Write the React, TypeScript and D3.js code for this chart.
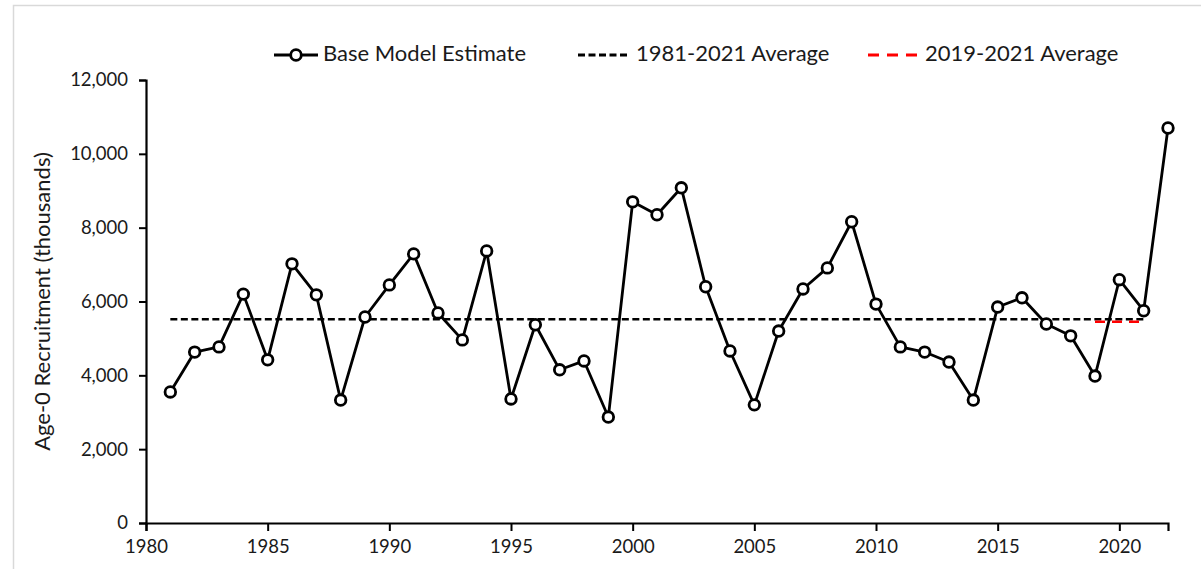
import { useEffect, useRef } from 'react';
import * as d3 from 'd3';

const years = [
  1981, 1982, 1983, 1984, 1985, 1986, 1987, 1988, 1989, 1990,
  1991, 1992, 1993, 1994, 1995, 1996, 1997, 1998, 1999, 2000,
  2001, 2002, 2003, 2004, 2005, 2006, 2007, 2008, 2009, 2010,
  2011, 2012, 2013, 2014, 2015, 2016, 2017, 2018, 2019, 2020,
  2021, 2022,
];
const recruitment = [
  3550, 4630, 4770, 6200, 4420, 7020, 6180, 3330, 5580, 6450,
  7290, 5690, 4960, 7370, 3360, 5370, 4150, 4390, 2870, 8700,
  8350, 9080, 6400, 4660, 3200, 5200, 6340, 6910, 8160, 5930,
  4770, 4630, 4360, 3330, 5850, 6100, 5390, 5070, 3980, 6590,
  5750, 10700,
];
// averages
const longAvgYears = [1981, 2021];
const longAvgValue = 5520;
const recentAvgYears = [2019, 2021];
const recentAvgValue = 5450;

const yTicks = [0, 2000, 4000, 6000, 8000, 10000, 12000];
const xTicks = [1980, 1985, 1990, 1995, 2000, 2005, 2010, 2015, 2020];
const legendLabels = ['Base Model Estimate', '1981-2021 Average', '2019-2021 Average'];

interface Point {
  year: number;
  value: number;
}

const App = () => {
  const chartRef = useRef(null);

  useEffect(() => {
    document.body.style.margin = '0';
    d3.select(chartRef.current).selectAll('svg').remove();

    const width = 1201;
    const height = 569;
    const margin = { top: 80, right: 33, bottom: 46, left: 146 };
    const font = 'Lato, "Open Sans", sans-serif';
    const textColor = '#1a1a1a';

    const data: Point[] = years.map((y, i) => ({ year: y, value: recruitment[i] }));

    const svg = d3.select(chartRef.current)
      .append('svg')
      .attr('width', width)
      .attr('height', height)
      .style('display', 'block')
      .style('background', '#fff');

    // outer chart border
    svg.append('rect')
      .attr('x', 13.5)
      .attr('y', 5.5)
      .attr('width', width + 10)
      .attr('height', height + 10)
      .attr('fill', 'none')
      .attr('stroke', '#d9d9d9')
      .attr('stroke-width', 1.5);

    const x = d3.scaleLinear()
      .domain([1980, 2022])
      .range([margin.left, width - margin.right]);

    const y = d3.scaleLinear()
      .domain([0, 12000])
      .range([height - margin.bottom, margin.top]);

    const g = svg.append('g');

    // x axis: minor ticks every year, labels every 5
    const xAxis = g.append('g')
      .attr('transform', `translate(0,${y(0)})`);
    xAxis.call(d3.axisBottom(x).tickValues(d3.range(1980, 2023)).tickSize(5).tickFormat(() => ''));
    xAxis.call(d3.axisBottom(x).tickValues(xTicks).tickSize(8).tickFormat(d3.format('d')));
    xAxis.selectAll('path').attr('stroke', '#000').attr('stroke-width', 2.2);
    xAxis.selectAll('line').attr('stroke', '#000').attr('stroke-width', 2);
    xAxis.selectAll('text')
      .attr('font-family', font)
      .attr('font-size', 18.5)
      .attr('fill', textColor)
      .attr('dy', '0.71em')
      .attr('y', 17);

    // y axis: minor ticks every 400
    const yAxis = g.append('g')
      .attr('transform', `translate(${x(1980)},0)`);
    yAxis.call(d3.axisLeft(y).tickValues(d3.range(0, 12001, 400)).tickSize(5).tickFormat(() => ''));
    yAxis.call(d3.axisLeft(y).tickValues(yTicks).tickSize(7).tickFormat(d3.format(',')));
    yAxis.selectAll('path').attr('stroke', '#000').attr('stroke-width', 2.2);
    yAxis.selectAll('line').attr('stroke', '#000').attr('stroke-width', 2);
    yAxis.selectAll('text')
      .attr('font-family', font)
      .attr('font-size', 18.5)
      .attr('fill', textColor)
      .attr('x', -18);

    g.append('text')
      .attr('transform', `translate(44,${(y(0) + y(12000)) / 2}) rotate(-90)`)
      .attr('text-anchor', 'middle')
      .attr('dominant-baseline', 'middle')
      .attr('font-family', font)
      .attr('font-size', 22)
      .attr('fill', textColor)
      .text('Age-0 Recruitment (thousands)');

    // average lines
    g.append('line')
      .attr('x1', x(longAvgYears[0]))
      .attr('x2', x(longAvgYears[1]))
      .attr('y1', y(longAvgValue))
      .attr('y2', y(longAvgValue))
      .attr('stroke', '#000')
      .attr('stroke-width', 2.5)
      .attr('stroke-dasharray', '7,3.5');

    g.append('line')
      .attr('x1', x(recentAvgYears[0]))
      .attr('x2', x(recentAvgYears[1]))
      .attr('y1', y(recentAvgValue))
      .attr('y2', y(recentAvgValue))
      .attr('stroke', '#ff0000')
      .attr('stroke-width', 2.5)
      .attr('stroke-dasharray', '10,7');

    const line = d3.line<Point>()
      .x(d => x(d.year))
      .y(d => y(d.value));

    g.append('path')
      .datum(data)
      .attr('d', line)
      .attr('fill', 'none')
      .attr('stroke', '#000')
      .attr('stroke-width', 2.8)
      .attr('stroke-linejoin', 'round');

    g.selectAll('.pt')
      .data(data)
      .enter()
      .append('circle')
      .attr('class', 'pt')
      .attr('cx', d => x(d.year))
      .attr('cy', d => y(d.value))
      .attr('r', 5.3)
      .attr('fill', '#fff')
      .attr('stroke', '#000')
      .attr('stroke-width', 2.8);

    // legend
    const legend = svg.append('g').attr('transform', 'translate(0,55)');
    const items = [
      { x0: 274, x1: 318, tx: 323, kind: 'marker' },
      { x0: 578, x1: 630, tx: 636, kind: 'black' },
      { x0: 868, x1: 918, tx: 925, kind: 'red' },
    ];
    items.forEach((it, i) => {
      const lg = legend.append('g');
      lg.append('line')
        .attr('x1', it.x0)
        .attr('x2', it.x1)
        .attr('y1', 0)
        .attr('y2', 0)
        .attr('stroke', it.kind === 'red' ? '#ff0000' : '#000')
        .attr('stroke-width', 2.8)
        .attr('stroke-dasharray', it.kind === 'black' ? '7,3.5' : it.kind === 'red' ? '11,8' : null);
      if (it.kind === 'marker') {
        lg.append('circle')
          .attr('cx', (it.x0 + it.x1) / 2)
          .attr('cy', 0)
          .attr('r', 5.3)
          .attr('fill', '#fff')
          .attr('stroke', '#000')
          .attr('stroke-width', 2.8);
      }
      lg.append('text')
        .attr('x', it.tx)
        .attr('y', 0)
        .attr('dominant-baseline', 'middle')
        .attr('font-family', font)
        .attr('font-size', 22)
        .attr('fill', textColor)
        .text(legendLabels[i]);
    });
  }, []);

  return (
    <div>
      <div ref={chartRef}></div>
    </div>
  );
};

export default App;
